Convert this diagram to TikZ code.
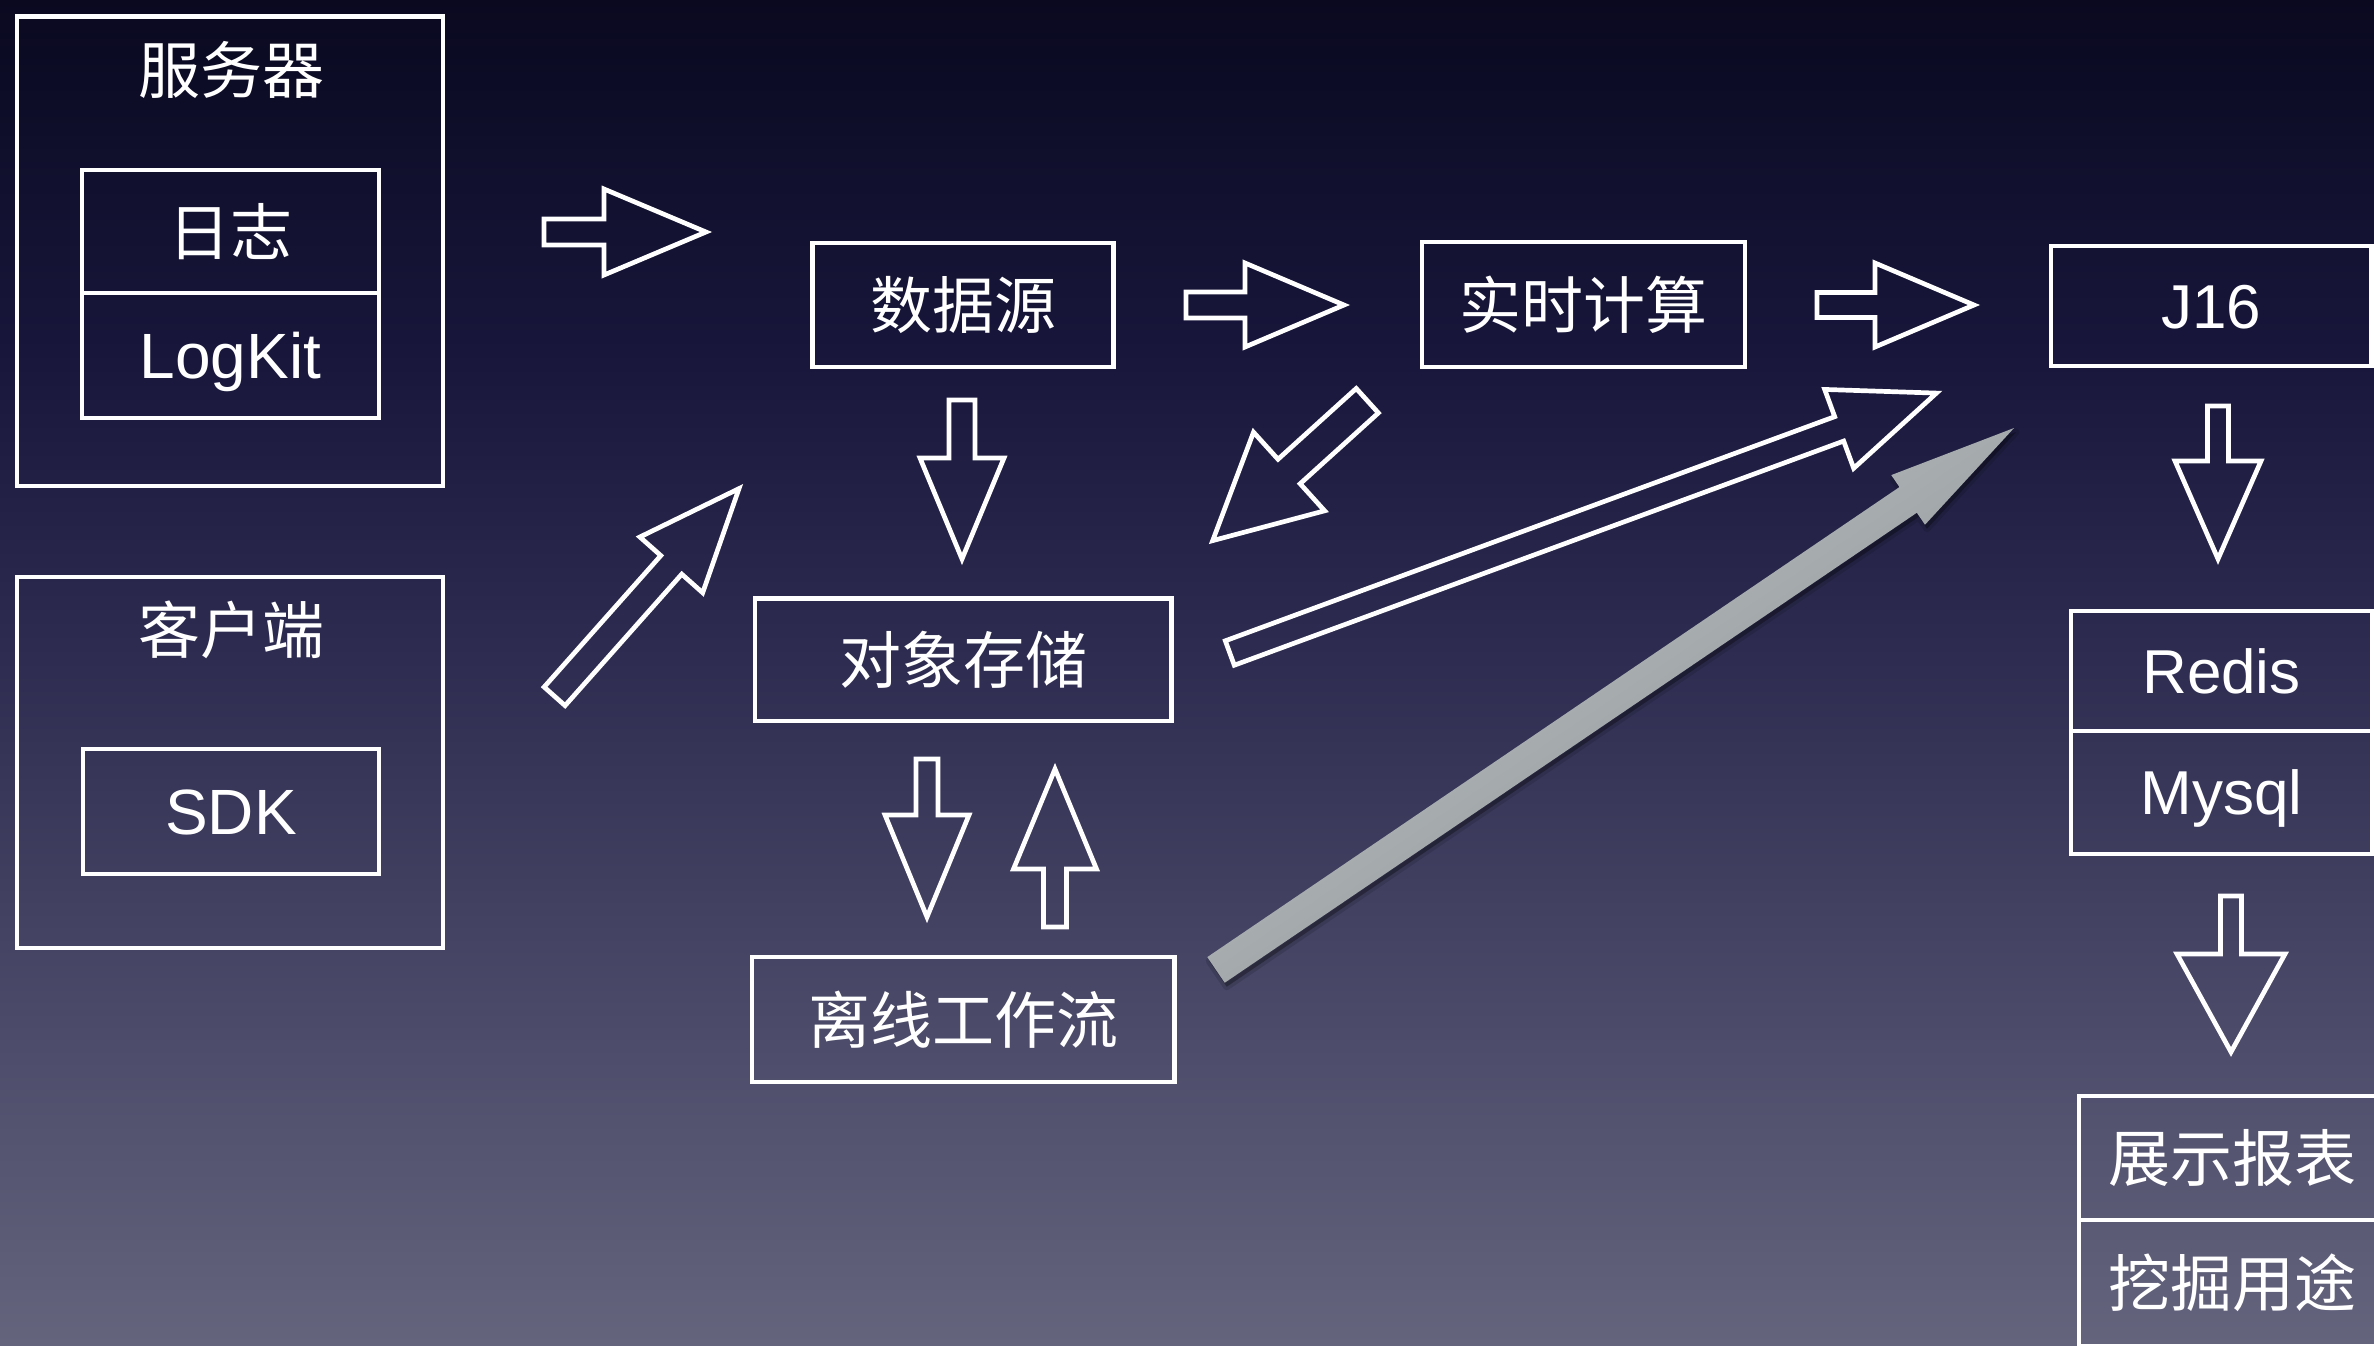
\documentclass[tikz,border=0pt]{standalone}
\usepackage{fontspec}
\setmainfont{Liberation Sans}
\newfontfamily\cjkfont{Noto Sans CJK SC}
\newfontfamily\latfont{Liberation Sans}
\usetikzlibrary{calc}
\definecolor{bgtop}{HTML}{0A0920}
\definecolor{bgqa}{HTML}{17163A}
\definecolor{bgmid}{HTML}{2F2E52}
\definecolor{bgqb}{HTML}{4A4968}
\definecolor{bgbot}{HTML}{65647D}
\definecolor{gtop}{HTML}{C4C8CA}
\definecolor{gbot}{HTML}{868C90}
\pgfdeclareverticalshading{bgshade}{100bp}{color(0bp)=(bgbot); color(25bp)=(bgbot); color(37.5bp)=(bgqb); color(50bp)=(bgmid); color(62.5bp)=(bgqa); color(75bp)=(bgtop); color(100bp)=(bgtop)}
% block arrow: [style]{name}{tail}{tip}{shaft half width}{head half width}{head length}
\newcommand\blockarrow[7][barrow]{%
  \coordinate (#2-t) at #3;
  \coordinate (#2-h) at #4;
  \coordinate (#2-b) at ($(#2-h)!#7pt!(#2-t)$);
  \path[#1] ($(#2-t)!#5pt!90:(#2-h)$) -- ($(#2-b)!#5pt!90:(#2-h)$) -- ($(#2-b)!#6pt!90:(#2-h)$) -- (#2-h) -- ($(#2-b)!#6pt!-90:(#2-h)$) -- ($(#2-b)!#5pt!-90:(#2-h)$) -- ($(#2-t)!#5pt!-90:(#2-h)$) -- cycle;}
\tikzset{
  box/.style={draw=white, line width=4.7pt, inner sep=0pt, outer sep=0pt},
  cjk/.style={font=\cjkfont\fontsize{62}{62}\selectfont, text=white},
  lat/.style={font=\latfont\fontsize{64}{64}\selectfont, text=white, text height=45.8pt, text depth=0pt},
  latr/.style={font=\latfont\fontsize{62}{62}\selectfont, text=white, text height=44.4pt, text depth=0pt},
  barrow/.style={draw=white, line width=4.7pt, line join=miter},
  garrow/.style={top color=gtop, bottom color=gbot, shading angle=34.2},
  gshadow/.style={fill=black, fill opacity=0.3, draw=black, draw opacity=0.12, line width=7pt, line join=round},
}
\begin{document}
\begin{tikzpicture}[x=1pt,y=-1pt]
\useasboundingbox (0,0) rectangle (2374,1345);
\clip (0,0) rectangle (2374,1345);
\shade[shading=bgshade] (0,0) rectangle (2374,1345);

% left column
\node[box, minimum width=426pt, minimum height=469.5pt] (srv) at (230,251.25) {};
\node[cjk] (srvt) at (231,70) {服务器};
\node[box, cjk, minimum width=297pt, minimum height=123pt] (log) at (230.5,231.5) {日志};
\node[box, lat, minimum width=297pt, minimum height=125pt] (lk) at (230.5,355.5) {LogKit};
\node[box, minimum width=426pt, minimum height=371pt] (cli) at (230,762.5) {};
\node[cjk] (clit) at (231,630) {客户端};
\node[box, lat, minimum width=296pt, minimum height=125pt] (sdk) at (231,811.5) {SDK};

% middle
\node[box, cjk, minimum width=301pt, minimum height=124pt] (src) at (963,305) {数据源};
\node[box, cjk, minimum width=323pt, minimum height=125pt] (rt) at (1583.5,304.5) {实时计算};
\node[box, cjk, minimum width=416.6pt, minimum height=122.5pt] (obj) at (963.3,659.75) {对象存储};
\node[box, cjk, minimum width=422.5pt, minimum height=125pt] (off) at (963.25,1019.5) {离线工作流};

% right column
\node[box, latr, minimum width=320.5pt, minimum height=120pt] (j16) at (2211.25,306) {J16};
\node[box, latr, minimum width=301pt, minimum height=120pt] (redis) at (2221.5,671) {Redis};
\node[box, latr, minimum width=301pt, minimum height=123pt] (mysql) at (2221.5,792.5) {Mysql};
\node[box, cjk, minimum width=306pt, minimum height=124pt] (show) at (2232,1158) {展示报表};
\node[box, cjk, minimum width=306pt, minimum height=126pt] (mine) at (2232,1283) {挖掘用途};

% white block arrows
\blockarrow{a1}{(544,232)}{(706,232)}{13}{43}{102}
\blockarrow{a2}{(1186,305)}{(1344,305)}{13}{42}{99}
\blockarrow{a3}{(1817,305)}{(1974,305)}{12.5}{42}{99}
\blockarrow{aA}{(962,400)}{(962,559)}{13}{42}{101}
\blockarrow{aB}{(927,759)}{(927,917)}{11}{42}{102}
\blockarrow{aC}{(1055,927)}{(1055,769)}{11.5}{41.5}{100}
\blockarrow{aD}{(2218,406)}{(2218,559)}{10.5}{43}{98}
\blockarrow{aE}{(2231,896)}{(2231,1052)}{10.5}{54}{98}
\blockarrow{aUR}{(554.6,696.3)}{(739,488.6)}{14}{42}{102}
\blockarrow{aDL}{(1367.3,400.7)}{(1212.7,540.6)}{16.5}{53}{103}
\blockarrow{aLW}{(1229.8,653)}{(1936.4,393.1)}{13}{42}{103.6}

% grey arrow with soft shadow
\blockarrow[gshadow]{gs}{(1218,973.9)}{(2016,432)}{15.5}{30}{128}
\blockarrow[garrow]{ga}{(1216,969.9)}{(2014,428)}{15.5}{30}{128}
\end{tikzpicture}
\end{document}
